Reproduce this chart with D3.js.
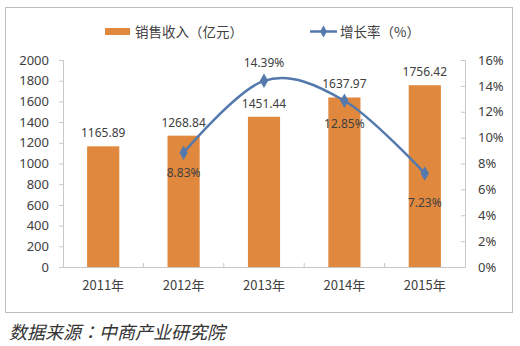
<!DOCTYPE html>
<html>
<head>
<meta charset="utf-8">
<script src="https://cdn.jsdelivr.net/npm/d3@7/dist/d3.min.js"></script>
<style>
  html, body { margin: 0; padding: 0; background: #fff; }
  svg { display: block; }
  text { font-family: "Noto Sans", "Noto Sans CJK SC", sans-serif; fill: #404040; }
  .cjk { font-family: "Noto Sans CJK SC", sans-serif; }
  .note { font-family: "Noto Sans CJK TC", "Noto Sans CJK SC", sans-serif; }
</style>
</head>
<body>
<svg id="chart" width="520" height="346"></svg>
<script>
// Sales revenue (100 million yuan) and year-on-year growth rate (%)
const years = ["2011年", "2012年", "2013年", "2014年", "2015年"];
const revenue = [1165.89, 1268.84, 1451.44, 1637.97, 1756.42];
const growthYears = ["2012年", "2013年", "2014年", "2015年"];
const growth = [8.83, 14.39, 12.85, 7.23];
const leftTicks = [0, 200, 400, 600, 800, 1000, 1200, 1400, 1600, 1800, 2000];
const rightTicks = [0, 2, 4, 6, 8, 10, 12, 14, 16];

const svg = d3.select("#chart");
const barColor = "#e0883e";
const lineColor = "#5479ad";
const axisColor = "#c8c8c8";

const plot = { left: 63, right: 465, top: 60, bottom: 267 };

// outer frame
svg.append("rect")
  .attr("x", 5.5).attr("y", 7.5).attr("width", 507).attr("height", 305)
  .attr("fill", "#fff").attr("stroke", "#bdbdbd").attr("stroke-width", 1);

const x = d3.scaleBand().domain(years).range([plot.left, plot.right]).paddingInner(0.6).paddingOuter(0.3);
const yL = d3.scaleLinear().domain([0, 2000]).range([plot.bottom, plot.top]);
const yR = d3.scaleLinear().domain([0, 16]).range([plot.bottom, plot.top]);

// left axis
const gL = svg.append("g").attr("transform", `translate(${plot.left},0)`)
  .call(d3.axisLeft(yL).tickValues(leftTicks).tickFormat(d3.format("d")).tickSize(4).tickPadding(10));
gL.selectAll("text").attr("font-size", 13).style("fill", "#404040");

// right axis (labels left aligned, ticks inward)
const gR = svg.append("g").attr("transform", `translate(${plot.right},0)`)
  .call(d3.axisRight(yR).tickValues(rightTicks).tickFormat(d => d + "%").tickSize(-4).tickPadding(13));
gR.selectAll("text").attr("font-size", 13).style("fill", "#404040");

// bottom axis with boundary ticks
const gB = svg.append("g").attr("transform", `translate(0,${plot.bottom})`)
  .call(d3.axisBottom(x).tickSize(0).tickPadding(14));
gB.selectAll("text").attr("class", "cjk").attr("font-size", 13).style("fill", "#404040");
const bounds = d3.range(years.length + 1).map(i => plot.left + i * (plot.right - plot.left) / years.length);
gB.selectAll(".bound").data(bounds.slice(1, -1)).join("line")
  .attr("x1", d => d).attr("x2", d => d).attr("y1", 0).attr("y2", -4)
  .attr("stroke", axisColor);

[gL, gR, gB].forEach(g => {
  g.select(".domain").attr("stroke", axisColor);
  g.selectAll(".tick line").attr("stroke", axisColor);
});

// bars
svg.append("g").selectAll("rect").data(years).join("rect")
  .attr("x", (d) => x(d))
  .attr("y", (d, i) => yL(revenue[i]))
  .attr("width", x.bandwidth())
  .attr("height", (d, i) => plot.bottom - yL(revenue[i]))
  .attr("fill", barColor);

// bar value labels
svg.append("g").selectAll("text").data(years).join("text")
  .attr("x", d => x(d) + x.bandwidth() / 2)
  .attr("y", (d, i) => yL(revenue[i]) - 9)
  .attr("text-anchor", "middle")
  .attr("font-size", 12)
  .text((d, i) => revenue[i].toFixed(2));

// growth line (smoothed)
const cx = d => x(d) + x.bandwidth() / 2;
const line = d3.line()
  .x((d, i) => cx(growthYears[i]))
  .y(d => yR(d))
  .curve(d3.curveCardinal.tension(0));
svg.append("path").datum(growth)
  .attr("d", line)
  .attr("fill", "none").attr("stroke", lineColor).attr("stroke-width", 2.5);

const diamond = d3.symbol().type(d3.symbolDiamond).size(60);
svg.append("g").selectAll("path").data(growth).join("path")
  .attr("d", diamond)
  .attr("transform", (d, i) => `translate(${cx(growthYears[i])},${yR(d)})`)
  .attr("fill", lineColor);

// growth labels
const labelOffset = [24, -14, 27, 34];
svg.append("g").selectAll("text").data(growth).join("text")
  .attr("x", (d, i) => cx(growthYears[i]))
  .attr("y", (d, i) => yR(d) + labelOffset[i])
  .attr("text-anchor", "middle")
  .attr("font-size", 12)
  .text(d => d.toFixed(2) + "%");

// legend
const lg = svg.append("g");
lg.append("rect").attr("x", 105).attr("y", 28).attr("width", 25).attr("height", 7).attr("fill", barColor);
lg.append("text").attr("class", "cjk").attr("x", 135).attr("y", 37).attr("font-size", 13.5).text("销售收入（亿元）");
lg.append("line").attr("x1", 310).attr("x2", 337).attr("y1", 31.5).attr("y2", 31.5)
  .attr("stroke", lineColor).attr("stroke-width", 2.5);
lg.append("path").attr("d", d3.symbol().type(d3.symbolDiamond).size(40))
  .attr("transform", "translate(323.5,31.5)").attr("fill", lineColor);
lg.append("text").attr("class", "cjk").attr("x", 340).attr("y", 37).attr("font-size", 13.5).text("增长率（%）");

// source note
svg.append("text").attr("class", "note")
  .attr("x", 9).attr("y", 339)
  .attr("font-size", 18)
  .attr("font-style", "italic")
  .style("fill", "#333")
  .text("数据来源：中商产业研究院");
</script>
</body>
</html>
